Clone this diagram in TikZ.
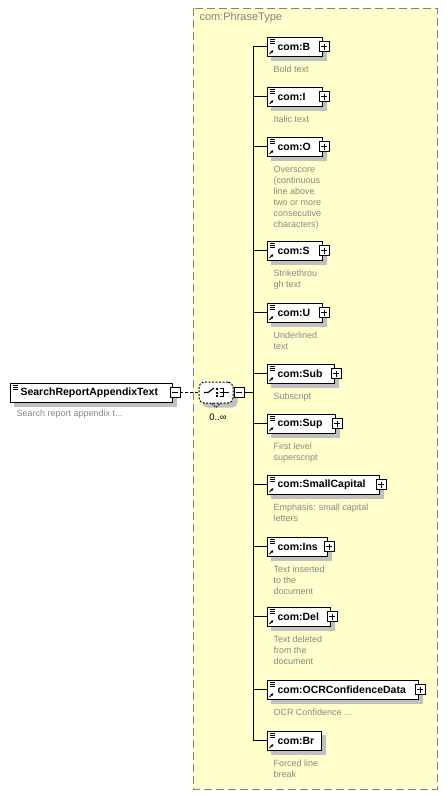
\documentclass[tikz,border=0pt]{standalone}
\usepackage{fontspec}
\setmainfont{Liberation Sans}
\usetikzlibrary{calc, backgrounds, arrows.meta}
\definecolor{grpfill}{RGB}{255,255,204}
\definecolor{grpline}{RGB}{128,128,128}
\definecolor{descgray}{RGB}{136,136,136}
\definecolor{shadowgray}{RGB}{192,192,192}

\begin{document}
\begin{tikzpicture}[x=1pt, y=-1pt, line width=1pt,
  elem/.style={draw, fill=white, anchor=west, inner sep=0, minimum height=19pt, align=left,
    font=\fontsize{10.5}{12}\selectfont\bfseries,
    path picture={\foreach \k in {2pt,4pt,6pt}
      \draw[line width=0.6pt] ([xshift=2pt, yshift=-\k]path picture bounding box.north west) -- ++(5pt,0);}},
  shade/.style={fill=shadowgray},
  refarrow/.style={-{Latex[length=3pt, width=3pt]}, line width=0.9pt},
  desc/.style={inner sep=0, align=left, text=descgray, font=\fontsize{9}{11}\selectfont},
  pm/.style={draw, fill=white, minimum size=10pt, inner sep=0, line width=0.8pt},
  minus/.style={pm, path picture={
    \draw[line width=0.8pt] ([xshift=2pt]path picture bounding box.west) -- ([xshift=-2pt]path picture bounding box.east);}},
  plus/.style={pm, path picture={
    \draw[line width=0.8pt] ([xshift=2pt]path picture bounding box.west) -- ([xshift=-2pt]path picture bounding box.east);
    \draw[line width=0.8pt] ([yshift=-2pt]path picture bounding box.north) -- ([yshift=2pt]path picture bounding box.south);}},
  comp/.style={draw, dash pattern=on 2pt off 1.5pt, fill=white, rounded corners=5pt,
    minimum width=34pt, minimum height=21pt, inner sep=0},
]
  \useasboundingbox (0,0) rectangle (447,795);
  % complex type box
  \begin{scope}[on background layer]
    \draw[grpline, fill=grpfill, dash pattern=on 8pt off 4pt] (193,8) rectangle (437,789);
  \end{scope}
  \node[anchor=west, inner sep=0, text=grpline, font=\fontsize{11}{13}\selectfont] (grp-t) at (199,17.5) {com:PhraseType};
  \coordinate (bus) at (253,0);

  % root element
  \node[elem, text width=162pt] (root) at (10,392.5) {\hspace*{10pt}SearchReportAppendixText};
  \begin{scope}[on background layer]
    \fill[shade] ([xshift=4pt, yshift=-4pt]root.north west) rectangle ([xshift=4pt, yshift=-4pt]root.south east);
  \end{scope}
  \node[minus] (root-m) at ([xshift=2pt]root.east) {};
  \node[desc, anchor=west] (root-d) at (16,414) {Search report appendix t...};

  % choice compositor
  \node[comp] (cmp) at (216,392.5) {};
  \begin{scope}[on background layer]
    \fill[shade, rounded corners=5pt] ([xshift=4pt, yshift=-4pt]cmp.north west) rectangle ([xshift=4pt, yshift=-4pt]cmp.south east);
  \end{scope}
  \draw[dash pattern=on 1.5pt off 1.5pt] ([xshift=-4pt]cmp.south) -- ++(4pt,-4pt) -- ++(4pt,4pt);
  \draw[line width=1.1pt] ([xshift=-12pt]cmp.center) -- ++(4pt,0) -- ++(6pt,4.5pt);
  \foreach \dy in {-4.6pt,-1pt,2.6pt}
    \fill ([xshift=0.3pt, yshift=\dy]cmp.center) rectangle ++(2pt,2pt);
  \foreach \dy in {-4pt,0pt,4pt}
    \draw[line width=1.1pt] ([xshift=3.5pt, yshift=\dy]cmp.center) -- ++(4pt,0);
  \draw[line width=1.1pt] ([xshift=7.5pt, yshift=4.5pt]cmp.center) -- ++(0,-9pt);
  \draw ([xshift=7.5pt]cmp.center) -- ++(5pt,0);
  \node[minus] (cmp-m) at ([xshift=5.5pt]cmp.east) {};
  \node[inner sep=0, font=\fontsize{9.5}{11}\selectfont] (cmp-occ) at (218,417) {0..∞};
  \draw[dash pattern=on 3pt off 2pt] (root-m.east) -- (cmp.west);
  \draw (cmp-m.east) -- (cmp-m.east -| bus);

  % child elements
  \foreach \nm/\yy/\w/\desc in {
      B/46.5/55pt/{Bold text},
      I/96.5/55pt/{Italic text},
      O/146.5/55pt/{Overscore\\(continuous\\line above\\two or more\\consecutive\\characters)},
      S/250.5/55pt/{Strikethrou\\gh text},
      U/312.5/55pt/{Underlined\\text},
      Sub/373.5/67pt/{Subscript},
      Sup/423.5/68pt/{First level\\superscript},
      SmallCapital/484.5/112pt/{Emphasis: small capital\\letters},
      Ins/546.5/60pt/{Text inserted\\to the\\document},
      Del/616.5/63pt/{Text deleted\\from the\\document},
      OCRConfidenceData/689.5/151pt/{OCR Confidence ...},
      Br/740.5/54pt/{Forced line\\break}} {
    \node[elem, text width=\w] (e-\nm) at (267,\yy) {\hspace*{10pt}com:\nm};
    \begin{scope}[on background layer]
      \fill[shade] ([xshift=4pt, yshift=-4pt]e-\nm.north west) rectangle ([xshift=4pt, yshift=-4pt]e-\nm.south east);
    \end{scope}
    \draw[refarrow] ([xshift=2.5pt, yshift=2.5pt]e-\nm.south west) -- ++(4pt,4pt);
    \node[desc, anchor=north west] (d-\nm) at ([xshift=6pt, yshift=-9pt]e-\nm.south west) {\desc};
    \draw (e-\nm.west) -- (e-\nm.west -| bus);
  }
  \foreach \nm in {B,I,O,S,U,Sub,Sup,SmallCapital,Ins,Del,OCRConfidenceData}
    \node[plus] (p-\nm) at ([xshift=1pt]e-\nm.east) {};
  \draw (e-B.west -| bus) -- (e-Br.west -| bus);
\end{tikzpicture}
\end{document}
